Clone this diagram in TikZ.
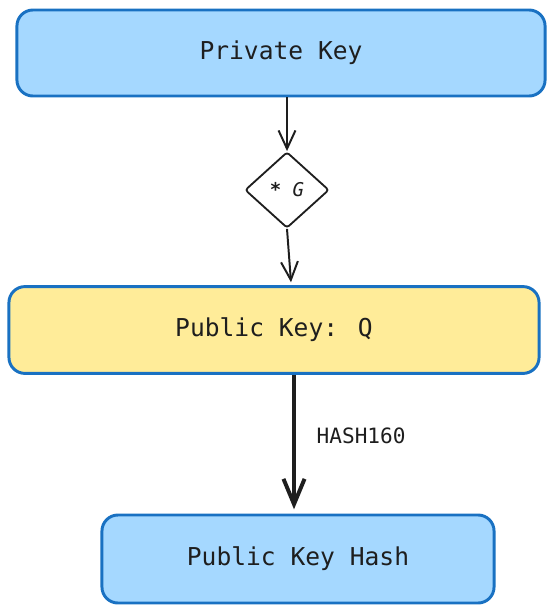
\documentclass[tikz,border=0pt]{standalone}
\usepackage{xcolor}
\usepackage{fontspec}
\setmainfont{DejaVu Sans Mono}
\usepackage{tikz}
\usetikzlibrary{arrows.meta,shapes.geometric}

\definecolor{keyblue}{HTML}{A5D8FF}
\definecolor{keyyellow}{HTML}{FFEC99}
\definecolor{edgeblue}{HTML}{1971C2}
\definecolor{ink}{HTML}{1E1E1E}

\begin{document}
\begin{tikzpicture}[x=0.025cm, y=-0.025cm,
    keybox/.style={draw=edgeblue, line width=2.1pt, rounded corners=0.4cm,
      text=ink, font=\fontsize{17.5}{21}\selectfont, inner sep=0pt},
    opbox/.style={draw=ink, line width=1.3pt, diamond, rounded corners=2pt,
      inner sep=0pt, minimum width=2.1cm, minimum height=1.9cm,
      text=ink, font=\fontsize{13.5}{15}\selectfont},
    flow/.style={draw=ink, line width=1.4pt, -{Straight Barb[length=13pt,width=12pt]}}]

  \useasboundingbox (0,0) rectangle (555,612);

% KEYS
  \node[keybox, fill=keyblue, minimum width=13.2cm, minimum height=2.15cm]
    (priv) at (281,53) {Private Key};
  \node[opbox] (mulG) at (287,190) {\textbf{*} \textit{G}};
  \node[keybox, fill=keyyellow, minimum width=13.25cm, minimum height=2.17cm]
    (pub) at (274,330) {Public Key: Q};
  \node[keybox, fill=keyblue, minimum width=9.8cm, minimum height=2.2cm]
    (pkh) at (298,559) {Public Key Hash};

% ARROWS
  \draw[flow] (priv.south -| mulG.north) -- (mulG.north);
  \draw[flow] (mulG.south) -- ([xshift=0.1cm, yshift=2pt]mulG.south |- pub.north);
  \draw[flow, line width=2.8pt, -{Straight Barb[length=18pt,width=15pt]}]
    ([xshift=0.5cm]pub.south) -- ([xshift=0.5cm, yshift=3pt]pub.south |- pkh.north)
    node[midway, right=0.4cm, yshift=0.15cm, text=ink, font=\fontsize{15}{18}\selectfont] {HASH160};

\end{tikzpicture}
\end{document}
